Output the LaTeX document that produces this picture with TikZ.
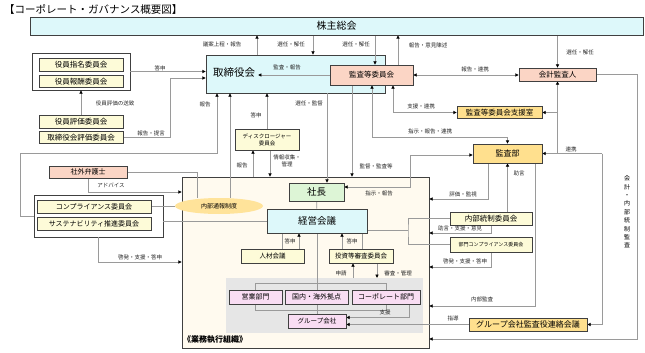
\documentclass[tikz,border=0pt]{standalone}
\usepackage{fontspec}
\setmainfont{Noto Sans CJK JP}
\usepackage{tikz}
\usetikzlibrary{arrows.meta,shapes.geometric}

\definecolor{kabuc}{HTML}{DDF8FA}
\definecolor{akac}{HTML}{FBD5C5}
\definecolor{kic}{HTML}{FDFBD8}
\definecolor{kinc}{HTML}{FFE08E}
\definecolor{tsuhoc}{HTML}{FFE39A}
\definecolor{midoric}{HTML}{DDF5D6}
\definecolor{momoc}{HTML}{F9DDF3}
\definecolor{kemic}{HTML}{FFFAEF}
\definecolor{haic}{HTML}{E6E6E6}
\definecolor{senc}{HTML}{9A9A9A}
\definecolor{wakuc}{HTML}{404040}

\pgfdeclarelayer{back}
\pgfdeclarelayer{senlayer}
\pgfsetlayers{back,senlayer,main}

\tikzset{
  box/.style={draw=wakuc, line width=0.8pt, inner sep=0pt, align=center},
  waku/.style={draw=wakuc, line width=0.8pt, fill=white, inner sep=0pt},
  sen/.style={draw=senc, line width=0.7pt},
  ya/.style={sen, -{Triangle[black,length=3.2pt,width=3.2pt]}},
  soya/.style={sen, {Triangle[black,length=3.2pt,width=3.2pt]}-{Triangle[black,length=3.2pt,width=3.2pt]}},
  lbl/.style={font=\fontsize{5.5}{6.5}\selectfont, inner sep=0.5pt, align=center, text=black!85},
}

\begin{document}
\begin{tikzpicture}[x=1pt,y=-1pt]
\useasboundingbox (0,0) rectangle (645,353);

\node[anchor=west, inner sep=0pt, font=\fontsize{10.5}{12}\selectfont] (title) at (4,9) {【コーポレート・ガバナンス概要図】};

% frames at the back
\begin{pgfonlayer}{back}
  \node[box, fill=kabuc, minimum width=179pt, minimum height=38pt] (tori) at (295.5,74) {};
  \node[waku, minimum width=98pt, minimum height=37pt] (yakuin) at (81,71.5) {};
  \node[waku, minimum width=129pt, minimum height=42pt] (compgroup) at (98.5,216) {};
  \node[box, fill=kemic, minimum width=247pt, minimum height=171pt] (exec) at (305.5,262.5) {};
  \node[fill=haic, inner sep=0pt, minimum width=197pt, minimum height=55pt] (haiiro) at (324.5,305.5) {};
\end{pgfonlayer}

% boxes
\node[box, fill=kabuc, minimum width=613pt, minimum height=18pt, font=\fontsize{10}{12}\selectfont] (kabu) at (336.5,26) {株主総会};
\node[inner sep=0pt, font=\fontsize{10.5}{12}\selectfont] (toritext) at (234,73) {取締役会};
\node[box, fill=akac, minimum width=83pt, minimum height=20pt, font=\fontsize{7.5}{9}\selectfont] (kansa) at (371.5,75) {監査等委員会};
\node[box, fill=akac, minimum width=77pt, minimum height=13pt, font=\fontsize{7.5}{9}\selectfont] (kaikei) at (557.5,74.5) {会計監査人};
\node[box, fill=kinc, minimum width=85pt, minimum height=12pt, font=\fontsize{7.5}{9}\selectfont] (shien) at (499.5,112.5) {監査等委員会支援室};
\node[box, fill=kinc, minimum width=69pt, minimum height=19pt, font=\fontsize{8}{9}\selectfont] (kansabu) at (507.5,153.5) {監査部};

\node[box, fill=kic, minimum width=84pt, minimum height=13pt, font=\fontsize{7.5}{9}\selectfont] (shimei) at (81,64.5) {役員指名委員会};
\node[box, fill=kic, minimum width=84pt, minimum height=12pt, font=\fontsize{7.5}{9}\selectfont] (houshu) at (81,81.5) {役員報酬委員会};
\node[box, fill=kic, minimum width=84pt, minimum height=13pt, font=\fontsize{7.5}{9}\selectfont] (hyouka) at (81,121.5) {役員評価委員会};
\node[box, fill=kic, minimum width=84pt, minimum height=12pt, font=\fontsize{7.5}{9}\selectfont] (torihyouka) at (81,137.5) {取締役会評価委員会};

\node[box, fill=akac, minimum width=78pt, minimum height=12pt, font=\fontsize{7}{8}\selectfont] (bengoshi) at (88,172) {社外弁護士};
\node[box, fill=kic, minimum width=114pt, minimum height=13pt, font=\fontsize{7}{8}\selectfont] (compli) at (94,206.5) {コンプライアンス委員会};
\node[box, fill=kic, minimum width=114pt, minimum height=13pt, font=\fontsize{7}{8}\selectfont] (sustain) at (94,223.5) {サステナビリティ推進委員会};

\node[box, fill=kic, minimum width=64pt, minimum height=21pt, font=\fontsize{5.5}{7}\selectfont] (disclo) at (267,139.5) {ディスクロージャー\\委員会};
\node[ellipse, fill=tsuhoc, inner sep=0pt, minimum width=88pt, minimum height=16pt, font=\fontsize{6}{7}\selectfont] (naibu) at (219,206) {内部通報制度};

\node[box, fill=midoric, minimum width=55pt, minimum height=18pt, font=\fontsize{9.5}{11}\selectfont] (shachou) at (316.5,192) {社長};
\node[box, fill=kabuc, minimum width=100pt, minimum height=24pt, font=\fontsize{9.5}{11}\selectfont] (keiei) at (317,221) {経営会議};
\node[box, fill=kic, minimum width=63pt, minimum height=14pt, font=\fontsize{6.5}{8}\selectfont] (jinzai) at (272.5,256) {人材会議};
\node[box, fill=kic, minimum width=64pt, minimum height=14pt, font=\fontsize{6.5}{8}\selectfont] (toushi) at (361,256) {投資等審査委員会};
\node[box, fill=momoc, minimum width=53pt, minimum height=14pt, font=\fontsize{7}{8}\selectfont] (eigyo) at (255.5,297) {営業部門};
\node[box, fill=momoc, minimum width=63pt, minimum height=14pt, font=\fontsize{7}{8}\selectfont] (kyoten) at (316.5,297) {国内・海外拠点};
\node[box, fill=momoc, minimum width=68pt, minimum height=14pt, font=\fontsize{7}{8}\selectfont] (corp) at (386,297) {コーポレート部門};
\node[box, fill=momoc, minimum width=58pt, minimum height=14pt, font=\fontsize{6.5}{8}\selectfont] (group) at (317,321) {グループ会社};
\node[anchor=west, inner sep=0pt, font=\fontsize{8}{9}\selectfont\bfseries] (execlabel) at (183,340) {《業務執行組織》};

\node[box, fill=kic, minimum width=82pt, minimum height=13pt, font=\fontsize{7.5}{9}\selectfont] (naibutousei) at (491,218.5) {内部統制委員会};
\node[box, fill=kic, minimum width=82pt, minimum height=15pt, font=\fontsize{5}{6}\selectfont] (bumon) at (491,244.5) {部門コンプライアンス委員会};
\node[box, fill=kinc, minimum width=118pt, minimum height=13pt, font=\fontsize{8}{9}\selectfont] (renraku) at (528,324.5) {グループ会社監査役連絡会議};

\node[inner sep=0pt, align=center, font=\fontsize{6}{8.4}\selectfont] (kaikeitxt) at (627,212) {会\\計\\・\\内\\部\\統\\制\\監\\査};

% labels
\foreach \n/\x/\y/\t in {giantxt/222/44/議案上程・報告, sennin1txt/291/44/選任・解任,
    sennin2txt/356/44/選任・解任, chinjutsutxt/428/45/報告・意見陳述, sennin3txt/580/52/選任・解任,
    kansahoukoku/287/67/監査・報告, houkokurenkei/475/69/報告・連携, toushin1/160/68/答申,
    soutchi/115/103/役員評価の送致, teigentxt/151/133/報告・提言, houkoku1/205/104/報告,
    toushin2/256/115/答申, senninkantoku/309/103/選任・監督, shienrenkei/421/106/支援・連携,
    shijirenkei/430/131/指示・報告・連携, renkeitxt/571/149/連携, houkoku2/242/165/報告,
    kansatoutxt/376/166/監督・監査等, jogentxt/519/173/助言, shijihoukoku/379/193/指示・報告,
    hyoukatxt/463/194/評価・監視, advtxt/111/185/アドバイス, ikentxt/460/228/助言・支援・意見,
    toushin3/290/241/答申, toushin4/352/241/答申, keihatsu1/140/257/啓発・支援・答申,
    keihatsu2/465/261/啓発・支援・答申, shinseitxt/341/273/申請, shinsatxt/398/273/審査・管理,
    naibukansatxt/482/299/内部監査, shientxt/385/312/支援, shidoutxt/453/318/指導}
  \node[lbl] (\n) at (\x,\y) {\t};
\node[lbl] (shushutxt) at (287,161) {情報収集・\\管理};

% connectors
\coordinate (gian) at (257,0);
\coordinate (sennin1) at (313,0);
\coordinate (sennin2) at (375,0);
\coordinate (chinjutsu) at (398,0);
\coordinate (teigen) at (170,78);
\coordinate (houkokuA) at (20,153);
\coordinate (houkokuB) at (217,153);
\coordinate (tsuho) at (230,0);
\coordinate (houkokuC) at (253,0);
\coordinate (shushu) at (270,0);
\coordinate (kantoku) at (327,0);
\coordinate (kansatou) at (352,0);
\coordinate (renkeiA) at (372,137);
\coordinate (shienA) at (393,0);
\coordinate (shijiA) at (410,187);
\coordinate (shijiB) at (410,155);
\coordinate (renkeiB) at (602,0);
\coordinate (kaikeiA) at (637,339);
\coordinate (hyoukaA) at (488,199);
\coordinate (naibukansa) at (535,306);
\coordinate (busA) at (408,230);
\coordinate (ikenA) at (491,233);
\coordinate (keihatsuA) at (491,267);
\coordinate (adv) at (88,192);
\coordinate (bengA) at (197,172);
\coordinate (keihatsuB) at (98.5,262);
\coordinate (brT) at (0,283);
\coordinate (brB) at (0,310);
\coordinate (shienB) at (409,317.5);
\coordinate (jinA) at (282,0);
\coordinate (jinB) at (299,0);
\coordinate (toA) at (342,0);
\coordinate (toB) at (362,0);
\coordinate (shinsei) at (353,0);
\coordinate (shinsa) at (377,0);

\begin{pgfonlayer}{senlayer}
  % shareholders
  \draw[ya] (gian |- tori.north) -- (gian |- kabu.south);
  \draw[ya] (sennin1 |- kabu.south) -- (sennin1 |- tori.north);
  \draw[ya] (sennin2 |- kabu.south) -- (sennin2 |- kansa.north);
  \draw[ya] (chinjutsu |- kansa.north) -- (chinjutsu |- kabu.south);
  \draw[ya] (kabu.south -| kaikei.north) -- (kaikei.north);

  % board
  \draw[ya, shorten >=3pt] (kansa.west) -- (kansa.west -| toritext.east);
  \draw[soya] (kansa.east) -- (kansa.east -| kaikei.west);
  \draw[ya] (yakuin.east) -- (yakuin.east -| tori.west);
  \draw[ya] (torihyouka.east) -| (teigen) -- (teigen -| tori.west);
  \draw[ya] (hyouka.north) -- (yakuin.south);
  \draw[ya] (compgroup.west) -| (houkokuA) -- (houkokuB) -- (houkokuB |- tori.south);
  \draw[ya] (tsuho |- naibu.north) -- (tsuho |- tori.south);
  \draw[ya] (disclo.north) -- (disclo.north |- tori.south);
  \draw[ya] (houkokuC |- exec.north) -- (houkokuC |- disclo.south);
  \draw[ya] (shushu |- disclo.south) -- (shushu |- exec.north);
  \draw[ya] (kantoku |- tori.south) -- (kantoku |- shachou.north);

  % audit
  \draw[ya] (kansatou |- kansa.south) -- (kansatou |- exec.north);
  \draw[soya] (renkeiA |- kansa.south) -- (renkeiA) -| (kansabu.north);
  \draw[soya] (shienA |- kansa.south) |- (shien.west);
  \draw[soya] (shijiA -| shachou.east) -- (shijiA) -- (shijiB) -- (shijiB -| kansabu.west);
  \draw[ya] (kaikei.south |- kansabu.east) -- (kaikei.south);
  \draw[ya] (renkeiB |- kansabu.east) -- (kansabu.east);
  \draw[ya] (renkeiB |- kansabu.east) |- (renraku.east);
  \draw[ya] (kaikei.south |- shien.east) -- (shien.east);
  \draw[ya] (kaikei.east) -| (kaikeiA) -- (kaikeiA -| exec.east);
  \draw[ya] (hyoukaA |- kansabu.south) -- (hyoukaA) -- (hyoukaA -| exec.east);
  \draw[ya] (naibutousei.north -| kansabu.south) -- (kansabu.south);
  \draw[ya] (naibukansa |- kansabu.south) -- (naibukansa) -- (naibukansa -| exec.east);

  % internal control
  \draw[sen] (keiei.east |- busA) -- (busA);
  \draw[sen] (naibutousei.west) -| (busA) |- (bumon.west);
  \draw[ya] (naibutousei.south) -- (ikenA) -- (ikenA -| exec.east);
  \draw[ya] (bumon.south) -- (keihatsuA) -- (keihatsuA -| exec.east);

  % left side
  \draw[ya] (bengoshi.south) -- (adv) -- (adv -| exec.west);
  \draw[sen] (bengoshi.east) -- (bengA) -- (bengA |- naibu.north);
  \draw[sen] (compli.east) -- (compli.east -| naibu.west);
  \draw[sen] (compgroup.east |- keiei.west) -- (keiei.west);
  \draw[ya] (compgroup.south) -- (keihatsuB) -- (keihatsuB -| exec.west);

  % execution
  \draw[sen] (shachou) -- (keiei);
  \draw[sen] (keiei.south) -- (group.north);
  \draw[sen] (eigyo.north) -- (eigyo.north |- brT) -- (corp.north |- brT) -- (corp.north);
  \draw[sen] (eigyo.south) -- (eigyo.south |- brB) -- (corp.south |- brB) -- (corp.south);
  \draw[ya] (shienB |- corp.south) -- (shienB) -- (shienB -| group.east);
  \draw[ya] (renraku.west) -- (renraku.west -| group.east);
  \draw[sen] (jinA |- keiei.south) -- (jinA |- jinzai.north);
  \draw[ya] (jinB |- jinzai.north) -- (jinB |- keiei.south);
  \draw[ya] (toA |- toushi.north) -- (toA |- keiei.south);
  \draw[sen] (toB |- keiei.south) -- (toB |- toushi.north);
  \draw[ya] (shinsei |- haiiro.north) -- (shinsei |- toushi.south);
  \draw[ya] (shinsa |- toushi.south) -- (shinsa |- haiiro.north);
\end{pgfonlayer}
\end{tikzpicture}
\end{document}
